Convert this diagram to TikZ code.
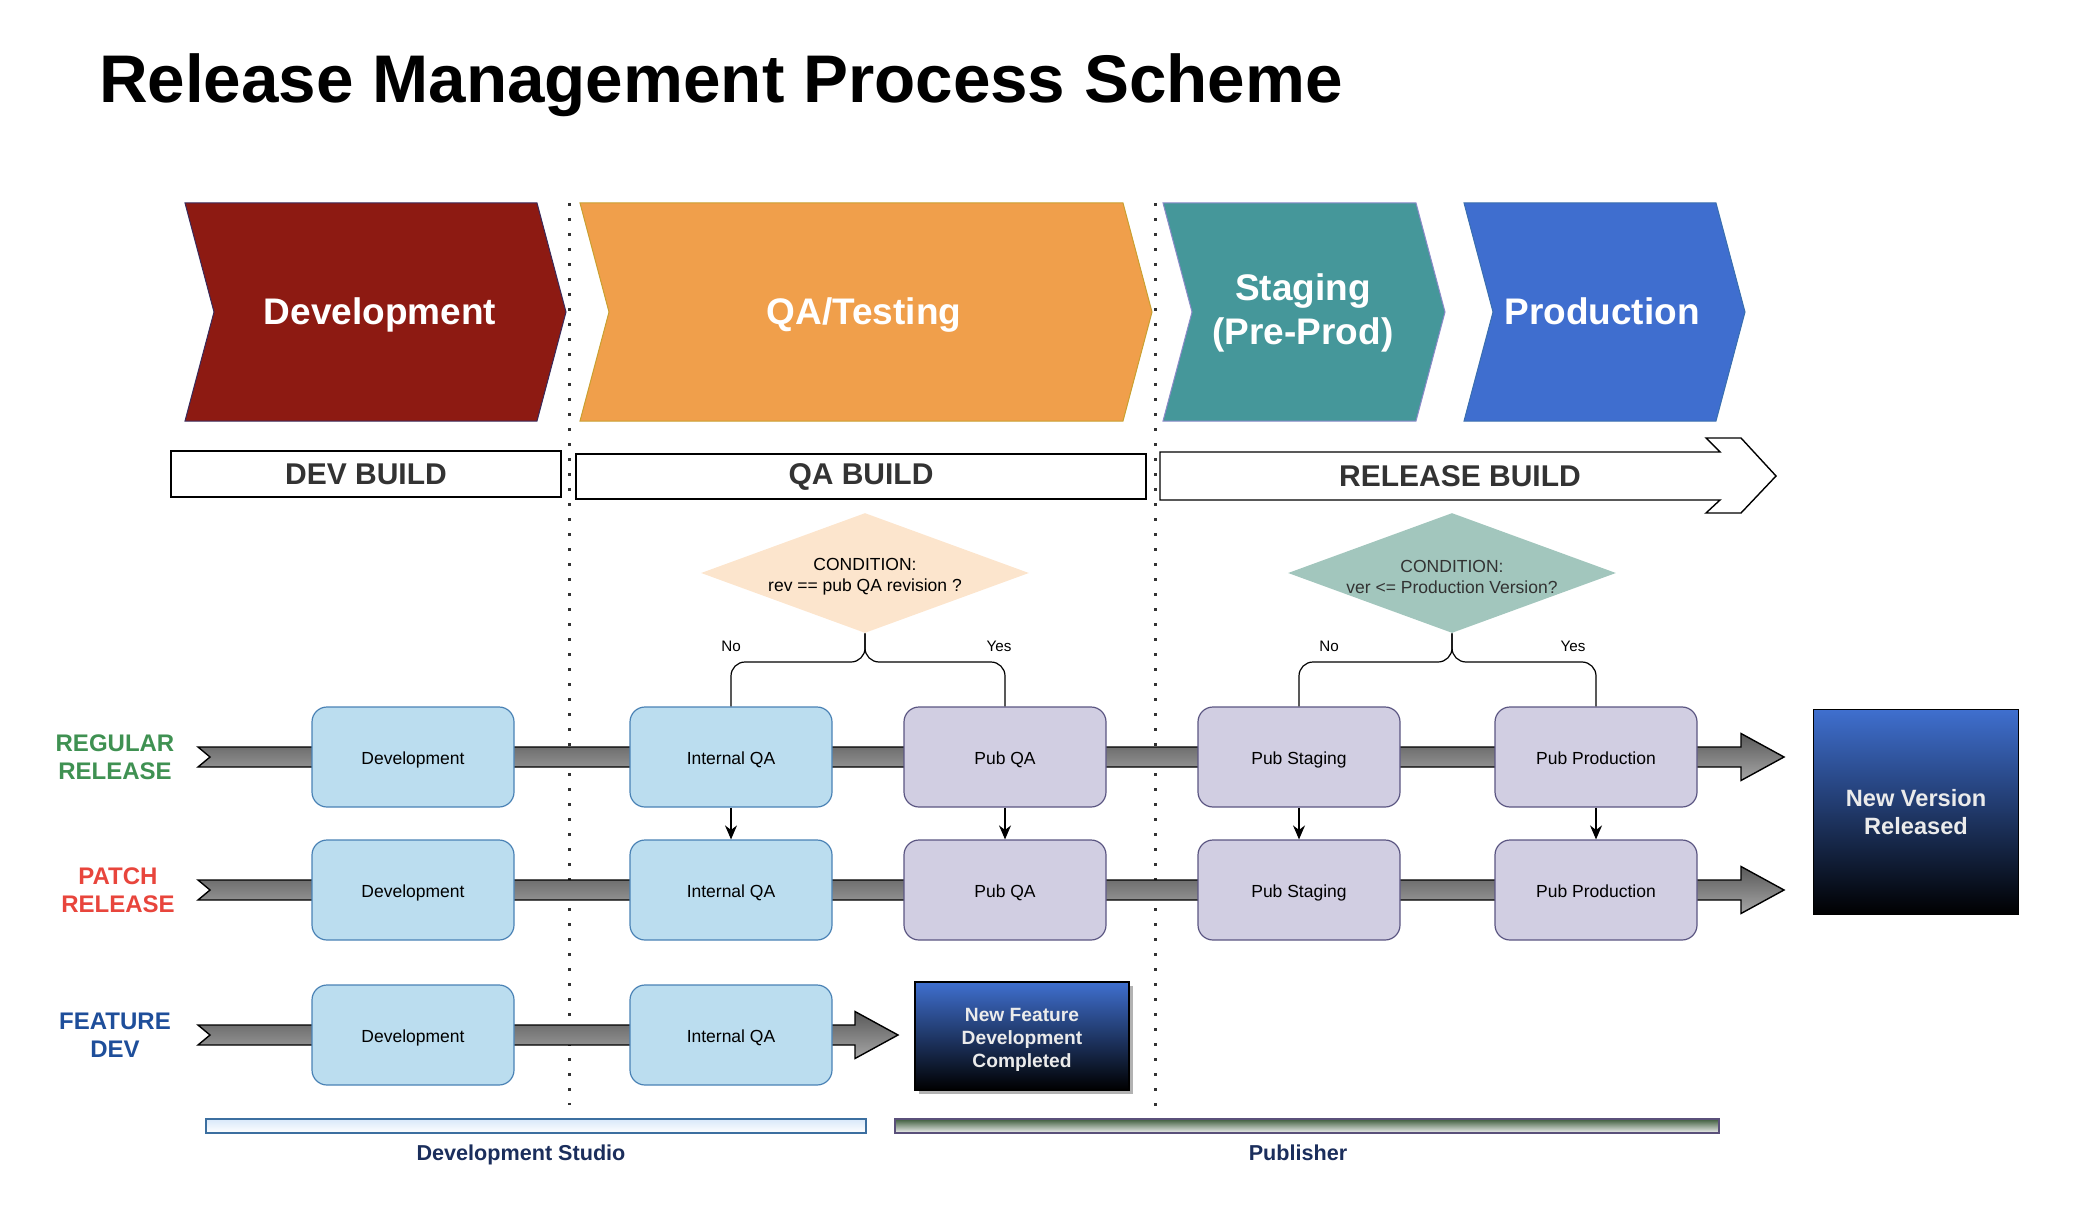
\documentclass[tikz,border=0pt]{standalone}
\usepackage{fontspec}
\setmainfont{Liberation Sans}
\usetikzlibrary{shapes.geometric,shadows,arrows.meta}

\definecolor{devred}{HTML}{8D1A12}
\definecolor{devline}{HTML}{3A2A5A}
\definecolor{qaorange}{HTML}{F09F4B}
\definecolor{qaline}{HTML}{C9A030}
\definecolor{stagteal}{HTML}{45979A}
\definecolor{stagline}{HTML}{8A8AC8}
\definecolor{prodblue}{HTML}{3F6ECF}
\definecolor{prodline}{HTML}{3A6FAF}
\definecolor{condpeach}{HTML}{FCE5CD}
\definecolor{condteal}{HTML}{A2C6BD}
\definecolor{boxblue}{HTML}{BBDDEF}
\definecolor{boxblueline}{HTML}{4A82B5}
\definecolor{boxpurple}{HTML}{D1CEE2}
\definecolor{boxpurpleline}{HTML}{5B5682}
\definecolor{regular}{HTML}{3F9152}
\definecolor{patch}{HTML}{E8453C}
\definecolor{feature}{HTML}{1E4E9A}
\definecolor{darktext}{HTML}{333333}
\definecolor{navytext}{HTML}{1B2E5C}
\definecolor{endtop}{HTML}{3F6FCF}
\definecolor{studiotop}{HTML}{D8E8FA}
\definecolor{studioline}{HTML}{3C6FA0}
\definecolor{pubtop}{HTML}{3D5C3C}
\definecolor{publine}{HTML}{5A507A}

\begin{document}
\begin{tikzpicture}[x=0.5pt,y=-0.5pt,
    chevtext/.style={text=white,align=center,font=\fontsize{18.5}{22}\selectfont\bfseries},
    buildtext/.style={text=darktext,font=\fontsize{15}{18}\selectfont\bfseries},
    buildbox/.style={buildtext,draw=black,line width=0.7pt,fill=white,inner sep=0pt},
    divider/.style={darktext,line width=1.5pt,dash pattern=on 1.5pt off 6pt},
    cond/.style={diamond,aspect=2.73,inner sep=0pt,minimum width=164pt,minimum height=60pt},
    condtext/.style={align=center,font=\fontsize{8.75}{10.5}\selectfont},
    lane/.style={draw=black,line width=0.7pt,top color=gray!70!black,bottom color=gray!70},
    box/.style={rounded corners=7.5pt,minimum width=101pt,minimum height=50pt,line width=0.6pt,
      text height=0.716em,text depth=0pt,font=\fontsize{8.75}{10.5}\selectfont},
    devbox/.style={box,draw=boxblueline,fill=boxblue},
    pubbox/.style={box,draw=boxpurpleline,fill=boxpurple},
    flow/.style={line width=0.6pt,-{Stealth[length=7pt,width=6pt]}},
    fork/.style={line width=0.6pt,rounded corners=7pt},
    small/.style={font=\fontsize{7.6}{9}\selectfont},
    rowlabel/.style={align=center,font=\fontsize{12}{14}\selectfont\bfseries},
    endbox/.style={draw=black,line width=0.6pt,top color=endtop,bottom color=black,inner sep=0pt},
    endtext/.style={text=white!92!black,align=center},
    bar/.style={line width=0.8pt,minimum height=7pt,inner sep=0pt},
    barlabel/.style={text=navytext,text height=0.716em,text depth=0pt,
      font=\fontsize{10.8}{13}\selectfont\bfseries}]

  \useasboundingbox (0,0) rectangle (2076,1208);

  % title
  \node[anchor=base west,font=\fontsize{33.7}{40}\selectfont\bfseries] (title) at (92,103)
    {Release Management Process Scheme};

  % phase chevrons
  \foreach \n/\xl/\xr/\col/\ln/\tx/\ty/\txt in {
      dev/185/537/devred/devline/380/315/Development,
      qa/580/1123/qaorange/qaline/864/315/QA\slash Testing,
      stag/1163/1416/stagteal/stagline/1303/313/{Staging\\(Pre-Prod)},
      prod/1464/1716/prodblue/prodline/1602/311/Production}{
    \filldraw[fill=\col,draw=\ln,line width=0.5pt] (\xl,203) -- (\xr,203) -- ++(29,109) -- (\xr,421)
      -- (\xl,421) -- ++(29,-109) -- cycle;
    \node[chevtext] (phase-\n) at (\tx,\ty) {\txt};
  }

  % build bars
  \node[buildbox,minimum width=195pt,minimum height=23pt] (devbuild) at (366,474) {DEV BUILD};
  \node[buildbox,minimum width=285pt,minimum height=22.5pt] (qabuild) at (861,476.5) {QA BUILD};
  \filldraw[fill=white,draw=black,line width=0.7pt] (1160,452) -- (1720,452) -- (1706,438) -- (1741,438)
    -- (1776,476) -- (1741,513) -- (1706,513) -- (1720,500) -- (1160,500) -- cycle;
  \node[buildtext] (relbuild) at (1460,476) {RELEASE BUILD};

  % stage borders
  \draw[divider] (569,203) -- (569,1105);
  \draw[divider] (1155,203) -- (1155,1110);

  % conditions
  \node[cond,fill=condpeach] (cond1) at (865,573) {};
  \node[condtext] (cond1-text) at ([yshift=-2pt]cond1.center) {CONDITION:\\rev == pub QA revision ?};
  \node[cond,fill=condteal] (cond2) at (1452,573) {};
  \node[condtext,text=darktext] (cond2-text) at ([yshift=-2pt]cond2.center) {CONDITION:\\ver <= Production Version?};

  % lanes
  \foreach \y/\xh in {757/1741, 890/1741, 1035/855}
    \draw[lane] (198,\y-10) -- (210,\y) -- (198,\y+10) -- (\xh,\y+10) -- (\xh,\y+23.5)
      -- (\xh+43,\y) -- (\xh,\y-23.5) -- (\xh,\y-10) -- cycle;

  % steps
  \foreach \r/\y in {1/757, 2/890}{
    \node[devbox] (dev\r) at (413,\y) {Development};
    \node[devbox] (iqa\r) at (731,\y) {Internal QA};
    \node[pubbox] (pqa\r) at (1005,\y) {Pub QA};
    \node[pubbox] (pst\r) at (1299,\y) {Pub Staging};
    \node[pubbox] (ppr\r) at (1596,\y) {Pub Production};
  }
  \node[devbox] (dev3) at (413,1035) {Development};
  \node[devbox] (iqa3) at (731,1035) {Internal QA};

  \foreach \n in {iqa,pqa,pst,ppr}
    \draw[flow] (\n1) -- (\n2);

  % decisions
  \coordinate (fork1) at (865,662);
  \coordinate (fork2) at (1452,662);
  \draw[fork] (cond1.south) -- (fork1) -| (iqa1.north);
  \draw[fork] (cond1.south) -- (fork1) -| (pqa1.north);
  \draw[fork] (cond2.south) -- (fork2) -| (pst1.north);
  \draw[fork] (cond2.south) -- (fork2) -| (ppr1.north);
  \node[small] (no1) at (731,646) {No};
  \node[small] (yes1) at (999,646) {Yes};
  \node[small] (no2) at (1329,646) {No};
  \node[small] (yes2) at (1573,646) {Yes};

  % row names
  \node[rowlabel,text=regular] (lregular) at (115,757) {REGULAR\\RELEASE};
  \node[rowlabel,text=patch] (lpatch) at (118,890) {PATCH\\RELEASE};
  \node[rowlabel,text=feature] (lfeature) at (115,1035) {FEATURE\\DEV};

  % results
  \node[endbox,minimum width=107pt,minimum height=54pt,
    drop shadow={shadow xshift=2pt,shadow yshift=-2pt,fill=gray!60,opacity=1}]
    (newfeature) at (1022,1036) {};
  \node[endtext,font=\fontsize{9.6}{11.5}\selectfont\bfseries] (newfeature-text)
    at ([yshift=-2pt]newfeature.center) {New Feature\\Development\\Completed};
  \node[endbox,minimum width=102.5pt,minimum height=102.5pt] (newversion) at (1916,812) {};
  \node[endtext,font=\fontsize{11.8}{14}\selectfont\bfseries] (newversion-text)
    at (newversion.center) {New Version\\Released};

  % owners
  \node[bar,minimum width=330pt,draw=studioline,top color=studiotop,bottom color=white] (studiobar) at (536,1126) {};
  \node[bar,minimum width=412pt,draw=publine,top color=pubtop,bottom color=white!95!black] (pubbar) at (1307,1126) {};
  \node[barlabel] (studio) at (521,1153) {Development Studio};
  \node[barlabel] (publisher) at (1298,1153) {Publisher};
\end{tikzpicture}
\end{document}
